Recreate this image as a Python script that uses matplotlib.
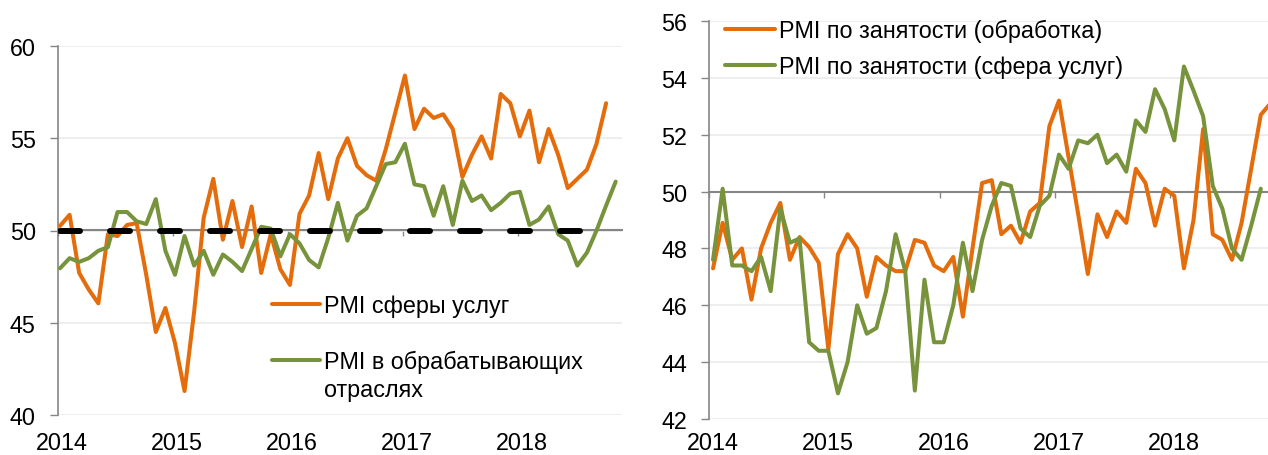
import matplotlib
matplotlib.use('Agg')
import matplotlib.pyplot as plt
from matplotlib.lines import Line2D

plt.rcParams['font.family'] = ['Liberation Sans', 'DejaVu Sans']
plt.rcParams['lines.scale_dashes'] = False

# ---------------- data ----------------
years = ['2014', '2015', '2016', '2017', '2018']

# Left chart: monthly PMI, Jan 2014 onwards
services_pmi = [50.25, 50.85, 47.7, 46.8, 46.05, 49.8, 49.7, 50.3, 50.4, 47.6,
                44.5, 45.8, 43.9, 41.3, 45.6, 50.7, 52.8, 49.5, 51.6, 49.1,
                51.3, 47.7, 49.8, 47.9, 47.05, 50.9, 51.9, 54.2, 51.7, 53.9,
                55.0, 53.5, 53.0, 52.7, 54.4, 56.4, 58.4, 55.5, 56.6, 56.1,
                56.3, 55.5, 52.9, 54.1, 55.1, 53.9, 57.4, 56.9, 55.1, 56.5,
                53.7, 55.5, 54.1, 52.3, 52.8, 53.3, 54.7, 56.9]
manufacturing_pmi = [47.95, 48.5, 48.3, 48.5, 48.9, 49.1, 51.0, 51.0, 50.5, 50.35,
                     51.7, 48.9, 47.6, 49.7, 48.1, 48.9, 47.6, 48.7, 48.3, 47.8,
                     49.0, 50.2, 50.1, 48.6, 49.8, 49.3, 48.4, 48.0, 49.6, 51.5,
                     49.45, 50.8, 51.2, 52.4, 53.6, 53.7, 54.7, 52.5, 52.4, 50.8,
                     52.4, 50.3, 52.7, 51.6, 51.9, 51.1, 51.5, 52.0, 52.1, 50.3,
                     50.6, 51.3, 49.8, 49.45, 48.1, 48.8, 50.0, 51.35, 52.65]
threshold = [50] * 56

# Right chart: employment PMI
emp_manufacturing = [47.3, 48.9, 47.6, 48.0, 46.2, 48.0, 48.9, 49.6, 47.6, 48.4,
                     48.05, 47.5, 44.45, 47.8, 48.5, 48.0, 46.3, 47.7, 47.4, 47.2,
                     47.2, 48.3, 48.2, 47.4, 47.2, 47.7, 45.6, 48.0, 50.3, 50.4,
                     48.5, 48.8, 48.2, 49.3, 49.6, 52.3, 53.2, 51.2, 49.2, 47.1,
                     49.2, 48.4, 49.3, 48.9, 50.8, 50.3, 48.8, 50.1, 49.85, 47.3,
                     49.0, 52.2, 48.5, 48.3, 47.6, 48.9, 50.8, 52.7, 53.1]
emp_services = [47.6, 50.1, 47.4, 47.4, 47.2, 47.7, 46.5, 49.4, 48.2, 48.35,
                44.7, 44.4, 44.4, 42.9, 44.0, 46.0, 45.0, 45.2, 46.5, 48.5,
                47.2, 43.0, 46.9, 44.7, 44.7, 46.0, 48.2, 46.5, 48.3, 49.5,
                50.3, 50.2, 48.7, 48.4, 49.5, 49.85, 51.3, 50.8, 51.8, 51.7,
                52.0, 51.0, 51.3, 50.7, 52.5, 52.1, 53.6, 52.9, 51.8, 54.4,
                53.55, 52.65, 50.2, 49.4, 48.0, 47.6, 48.8, 50.1]

left_labels = ['PMI сферы услуг', 'PMI в обрабатывающих']
left_label_extra = 'отраслях'
right_labels = ['PMI по занятости (обработка)', 'PMI по занятости (сфера услуг)']

# ---------------- style ----------------
ORANGE = '#E46C0A'
GREEN = '#77933C'
AXIS = '#868686'
GRID = '#EBEBEB'
FS = 16.8
LW = 2.9
W, H = 1268, 456

fig = plt.figure(figsize=(W / 100, H / 100), dpi=100)
axL = fig.add_axes([58 / W, 40 / H, (622 - 58) / W, (409 - 40) / H])
axR = fig.add_axes([709 / W, 36 / H, (1268 - 709) / W, (434 - 36) / H])


def style_axis(ax, ylim, yticks, xlim, tick_pos, label_pos, ypad, xpad):
    ax.set_xlim(*xlim)
    ax.set_ylim(*ylim)
    ax.set_yticks(yticks)
    ax.set_yticklabels([str(v) for v in yticks])
    ax.set_axisbelow(True)
    ax.grid(axis='y', color=GRID, lw=1.2)
    for s in ['top', 'right']:
        ax.spines[s].set_visible(False)
    ax.spines['left'].set_color(AXIS)
    ax.spines['left'].set_linewidth(1.2)
    ax.spines['bottom'].set_position(('data', 50))
    ax.spines['bottom'].set_color(AXIS)
    ax.spines['bottom'].set_linewidth(1.5)
    ax.spines['bottom'].set_zorder(1.5)
    ax.set_xticks(tick_pos)
    ax.set_xticklabels([])
    ax.tick_params(axis='x', direction='out', length=4, width=1, color=AXIS)
    ax.tick_params(axis='y', direction='out', length=5.5, width=1, color=AXIS,
                   labelsize=FS, pad=ypad, labelcolor='black')
    sec = ax.secondary_xaxis('bottom')
    sec.set_xticks(label_pos)
    sec.set_xticklabels(years)
    sec.tick_params(length=0, pad=xpad, labelsize=FS, labelcolor='black')
    sec.spines['bottom'].set_visible(False)


n_years = len(years)
style_axis(axL, (40, 60), [40, 45, 50, 55, 60], (-0.21, 58.66),
           [12 * k - 0.2 for k in range(n_years)],
           [12 * k + 0.2 for k in range(n_years)], 10.5, 11.5)
style_axis(axR, (42, 56), list(range(42, 57, 2)), (-0.42, 57.75),
           [12 * k - 0.42 for k in range(n_years)],
           [12 * k for k in range(n_years)], 10, 8.8)

line_kw = dict(lw=LW, solid_capstyle='round', solid_joinstyle='round')

# Left chart
axL.plot(range(len(services_pmi)), services_pmi, color=ORANGE, zorder=3, **line_kw)
axL.plot(range(len(manufacturing_pmi)), manufacturing_pmi, color=GREEN, zorder=3, **line_kw)
axL.plot(range(len(threshold)), threshold, color='black', lw=4.3,
         dashes=(14.4, 21.6), dash_capstyle='round', zorder=4)

# Right chart
axR.plot(range(len(emp_manufacturing)), emp_manufacturing, color=ORANGE, zorder=3,
         clip_on=True, **line_kw)
axR.plot(range(len(emp_services)), emp_services, color=GREEN, zorder=3, **line_kw)

# Legends
hL = [Line2D([], [], color=ORANGE, lw=LW, solid_capstyle='round'),
      Line2D([], [], color=GREEN, lw=LW, solid_capstyle='round')]
axL.legend(hL, left_labels, loc='upper left',
           bbox_to_anchor=(272 / W, 1 - 295 / H), bbox_transform=fig.transFigure,
           frameon=False, borderpad=0, borderaxespad=0, handlelength=2.05,
           handletextpad=0.17, labelspacing=1.42, fontsize=FS)
fig.text(324 / W, 1 - 397 / H, left_label_extra, ha='left', va='baseline', fontsize=FS)

hR = [Line2D([], [], color=ORANGE, lw=LW, solid_capstyle='round'),
      Line2D([], [], color=GREEN, lw=LW, solid_capstyle='round')]
axR.legend(hR, right_labels, loc='upper left',
           bbox_to_anchor=(725 / W, 1 - 20 / H), bbox_transform=fig.transFigure,
           frameon=False, borderpad=0, borderaxespad=0, handlelength=2.14,
           handletextpad=0.17, labelspacing=0.56, fontsize=FS)

fig.savefig('out.png', dpi=100)
